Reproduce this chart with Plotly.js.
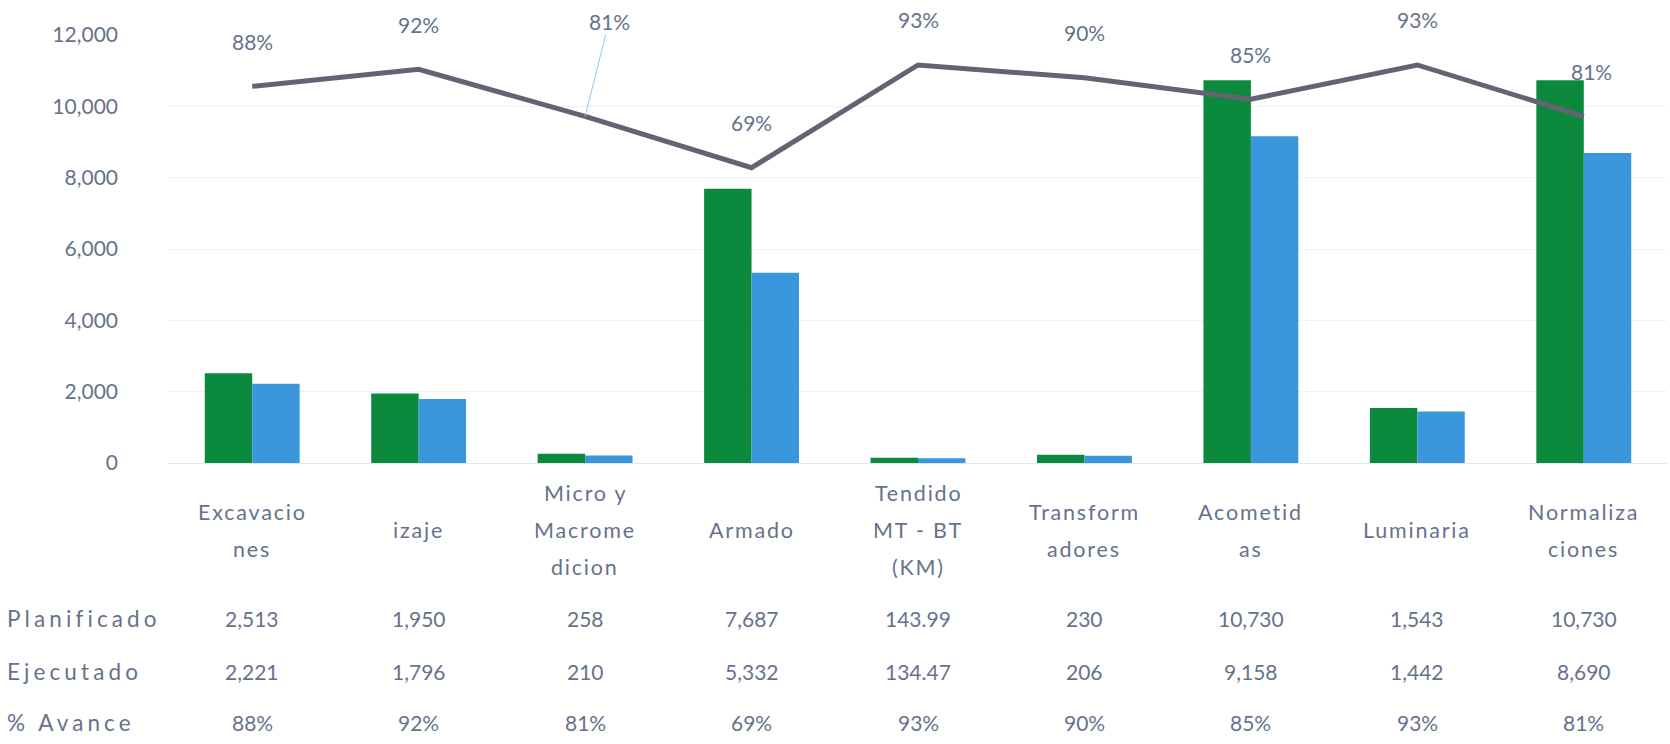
<!DOCTYPE html>
<html>
<head>
<meta charset="utf-8">
<script src="https://cdn.plot.ly/plotly-3.0.1.min.js"></script>
<style>
html,body{margin:0;padding:0;background:#fff;}
#chart{width:1670px;height:744px;}
text[style*="font-size: 21.5px"]{letter-spacing:1.8px;}
text[style*="font-size: 22.5px"]{letter-spacing:4.1px;}
</style>
</head>
<body>
<div id="chart"></div>
<script>
// ---- data ----
const categories = ["Excavaciones","izaje","Micro y Macromedicion","Armado","Tendido MT - BT (KM)","Transformadores","Acometidas","Luminaria","Normalizaciones"];
const categoryLines = [["Excavacio","nes"],["izaje"],["Micro y","Macrome","dicion"],["Armado"],["Tendido","MT - BT","(KM)"],["Transform","adores"],["Acometid","as"],["Luminaria"],["Normaliza","ciones"]];
const planificado = [2513, 1950, 258, 7687, 143.99, 230, 10730, 1543, 10730];
const ejecutado = [2221, 1796, 210, 5332, 134.47, 206, 9158, 1442, 8690];
const avance = [0.88, 0.92, 0.81, 0.69, 0.93, 0.90, 0.85, 0.93, 0.81];
const planificadoText = ["2,513","1,950","258","7,687","143.99","230","10,730","1,543","10,730"];
const ejecutadoText = ["2,221","1,796","210","5,332","134.47","206","9,158","1,442","8,690"];
const avanceText = ["88%","92%","81%","69%","93%","90%","85%","93%","81%"];
const rowNames = ["Planificado","Ejecutado","% Avance"];
const yTicks = [0, 2000, 4000, 6000, 8000, 10000, 12000];
const yTickText = ["0","2,000","4,000","6,000","8,000","10,000","12,000"];

// ---- style ----
const FONT = "Lato, 'Open Sans', 'DejaVu Sans Condensed', sans-serif";
const TXT = "#66728c";
const FS = 20;
const W = 1670, H = 744;
const M = {l: 169, r: 3, t: 35, b: 281};
const plotH = H - M.t - M.b;
const py = Y => (H - M.b - Y) / plotH; // pixel y -> paper y

const traces = [
  {type: "bar", name: "Planificado", x: categories, y: planificado,
   marker: {color: "#0b8a3e"}, hoverinfo: "y"},
  {type: "bar", name: "Ejecutado", x: categories, y: ejecutado,
   marker: {color: "#3b97dd"}, hoverinfo: "y"},
  {type: "scatter", mode: "lines", name: "% Avance", x: categories, y: avance, yaxis: "y2",
   line: {color: "#656373", width: 5}, hoverinfo: "y"}
];

const annotations = [];
// line value labels
avance.forEach((v, i) => {
  if (i === 2) {
    annotations.push({x: categories[i], y: v, xref: "x", yref: "y2", text: avanceText[i],
      showarrow: true, arrowhead: 0, arrowwidth: 1, arrowcolor: "#8fcaf2", ax: 24, ay: -95,
      font: {family: FONT, size: 21, color: TXT}});
  } else {
    annotations.push({x: categories[i], y: v, xref: "x", yref: "y2", text: avanceText[i],
      showarrow: false, yshift: 45, xshift: (i === 8 ? 8 : 0),
      font: {family: FONT, size: 21, color: TXT}});
  }
});
// category labels (vertically centred, one annotation per line)
const LH = 37;
categoryLines.forEach((lines, i) => {
  const n = lines.length;
  lines.forEach((t, j) => {
    const Y = 530 + (j - (n - 1) / 2) * LH;
    annotations.push({x: categories[i], y: py(Y), xref: "x", yref: "paper", text: t,
      showarrow: false, yanchor: "middle", font: {family: FONT, size: 21.5, color: TXT}});
  });
});
// data table
const rows = [planificadoText, ejecutadoText, avanceText];
const rowY = [618, 671, 722];
rows.forEach((vals, r) => {
  annotations.push({x: 0, xref: "paper", y: py(rowY[r]), yref: "paper", text: rowNames[r],
    showarrow: false, xanchor: "left", yanchor: "middle", xshift: -M.l + 5,
    font: {family: FONT, size: 22.5, color: TXT}});
  vals.forEach((t, i) => {
    annotations.push({x: categories[i], y: py(rowY[r]), xref: "x", yref: "paper", text: t,
      showarrow: false, yanchor: "middle", font: {family: FONT, size: 21, color: TXT}});
  });
});

const layout = {
  width: W, height: H,
  margin: M,
  paper_bgcolor: "#ffffff", plot_bgcolor: "#ffffff",
  showlegend: false,
  barmode: "group", bargap: 0.43, bargroupgap: 0,
  font: {family: FONT, size: FS, color: TXT},
  xaxis: {showticklabels: false, showgrid: false, zeroline: false, showline: false, ticks: ""},
  yaxis: {range: [0, 12000], tickvals: yTicks, ticktext: yTickText, showgrid: true,
          gridcolor: "#edf2f7", gridwidth: 1, zeroline: true, zerolinecolor: "#dde8f2",
          showline: false, ticks: "", ticklabelstandoff: 50,
          tickfont: {family: FONT, size: 21, color: TXT}},
  yaxis2: {range: [0, 1], overlaying: "y", side: "right", visible: false},
  annotations: annotations
};

Plotly.newPlot("chart", traces, layout, {staticPlot: true});
</script>
</body>
</html>
